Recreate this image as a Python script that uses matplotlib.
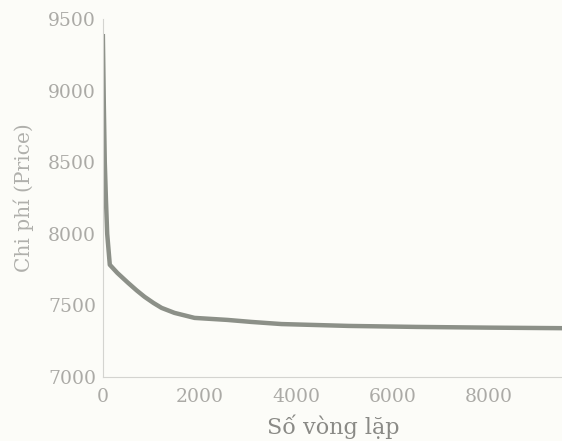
import matplotlib
matplotlib.use("Agg")
import matplotlib.pyplot as plt

# cost per iteration
iterations = [0, 20, 40, 65, 90, 144, 300, 515, 700, 865, 1050, 1216, 1484,
              1900, 2577, 3070, 3700, 5090, 6500, 8000, 10000]
cost = [9395, 8900, 8500, 8230, 8000, 7784, 7727, 7660, 7605, 7560, 7517,
        7483, 7448, 7413, 7399, 7385, 7370, 7357, 7350, 7345, 7340]

x_ticks = [0, 2000, 4000, 6000, 8000]
y_ticks = [7000, 7500, 8000, 8500, 9000, 9500]

plt.rcParams['font.family'] = ['DejaVu Serif']

fig = plt.figure(figsize=(5.62, 4.41), dpi=100, facecolor='#fcfcf8')
# the scan crops the right part of the axes
ax = fig.add_axes([0.183, 0.145, 0.859, 0.812])
ax.set_facecolor('#fcfcf8')

ax.plot(iterations, cost, color='#8c9088', linewidth=3.2,
        solid_capstyle='butt', solid_joinstyle='round')

ax.set_xlim(0, 10000)
ax.set_ylim(7000, 9500)
ax.set_xticks(x_ticks)
ax.set_yticks(y_ticks)
ax.tick_params(length=0, labelsize=13.5, labelcolor='#abaaa6')
ax.tick_params(axis='x', pad=8)
ax.tick_params(axis='y', pad=5)

for side in ['top', 'right']:
    ax.spines[side].set_visible(False)
for side in ['left', 'bottom']:
    ax.spines[side].set_color('#d4d4d0')
    ax.spines[side].set_linewidth(0.8)
    ax.spines[side].set_linestyle((0, (4, 1)))

ax.set_xlabel('Số vòng lặp', fontsize=16, color='#8a8a86')
ax.xaxis.set_label_coords(0.478, -0.105)
ax.set_ylabel('Chi phí (Price)', fontsize=14.5, color='#b0b0ac', labelpad=10)

fig.savefig('out.png', dpi=100, facecolor=fig.get_facecolor())
